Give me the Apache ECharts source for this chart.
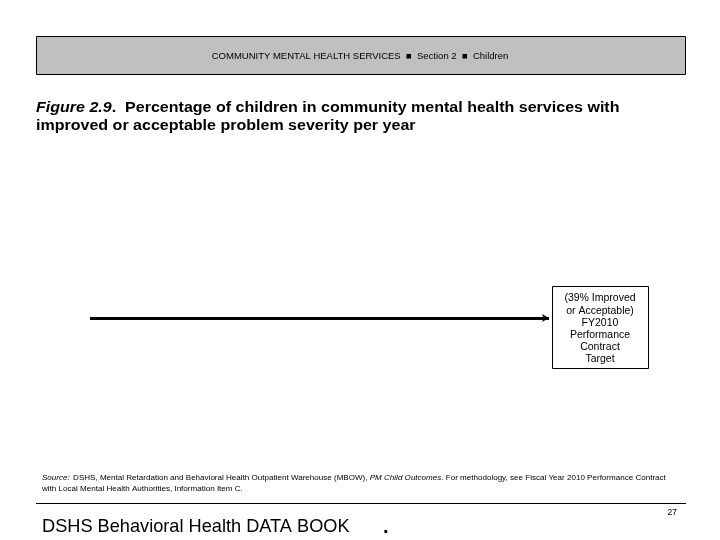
<!DOCTYPE html>
<html><head><meta charset="utf-8">
<script src="https://cdn.jsdelivr.net/npm/echarts@6/dist/echarts.min.js"></script>
<style>html,body{margin:0;padding:0;background:#fff}#c{width:720px;height:540px}</style>
</head><body><div id="c"></div>
<script>
const headerParts = ['COMMUNITY MENTAL HEALTH SERVICES', 'Section 2', 'Children'];
const titleLines = ['Percentage of children in community mental health services with', 'improved or acceptable problem severity per year'];
const targetX = [0, 1];
const targetValue = [39, 39];
const targetLabelLines = ['(39% Improved', 'or Acceptable)', 'FY2010', 'Performance', 'Contract', 'Target'];
const pageNumber = '27';

const chart = echarts.init(document.getElementById('c'), null, {renderer: 'canvas'});
const F = 'Liberation Sans, Arial, sans-serif';
chart.setOption({
  animation: false,
  grid: {left: 90, right: 171, top: 127, bottom: 100},
  xAxis: {type: 'value', min: 0, max: 1, show: false},
  yAxis: {type: 'value', min: 0, max: 100, show: false},
  series: [{
    type: 'line',
    data: [],
    markLine: {
      silent: true,
      symbol: ['none', 'arrow'],
      symbolSize: [6, 7],
      label: {show: false},
      lineStyle: {color: '#000', width: 3, type: 'solid'},
      data: [[{coord: [targetX[0], targetValue[0]]}, {coord: [targetX[1], targetValue[1]]}]]
    }
  }],
  graphic: [
    {type: 'rect', shape: {x: 36.5, y: 36.5, width: 649, height: 38}, style: {fill: '#c0c0c0', stroke: '#000', lineWidth: 1}},
    {type: 'text', x: 360, y: 56, style: {
      text: headerParts.join('  \u25A0  '), font: '9.5px ' + F, fill: '#000', align: 'center', verticalAlign: 'middle'}},
    {type: 'text', x: 36, y: 99, scaleX: 1.145, style: {
      text: '{i|Figure 2.9}{b|.  ' + titleLines[0] + '}\n{b|' + titleLines[1] + '}',
      rich: {
        i: {font: 'italic bold 14px ' + F, fill: '#000', lineHeight: 18},
        b: {font: 'bold 14px ' + F, fill: '#000', lineHeight: 18}
      },
      verticalAlign: 'top'}},
    {type: 'rect', shape: {x: 552.5, y: 286.5, width: 96, height: 82}, style: {fill: '#fff', stroke: '#000', lineWidth: 1}},
    {type: 'text', x: 600, y: 329, style: {
      text: targetLabelLines.join('\n'), font: '10.5px ' + F, lineHeight: 12.2, fill: '#000', align: 'center', verticalAlign: 'middle'}},
    {type: 'text', x: 42, y: 483, style: {
      text: '{i|Source:} {n|DSHS, Mental Retardation and Behavioral Health Outpatient Warehouse (MBOW), }{i|PM Child Outcomes}{n|. For methodology, see Fiscal Year 2010 Performance Contract}\n{n|with Local Mental Health Authorities, Information Item C.}',
      rich: {
        i: {font: 'italic 8.05px ' + F, fill: '#000', lineHeight: 11},
        n: {font: '8.05px ' + F, fill: '#000', lineHeight: 11}
      },
      verticalAlign: 'middle'}},
    {type: 'line', shape: {x1: 36, y1: 503.5, x2: 686, y2: 503.5}, style: {stroke: '#000', lineWidth: 1}},
    {type: 'text', x: 677, y: 513, style: {text: pageNumber, font: '8.5px ' + F, fill: '#000', align: 'right', verticalAlign: 'middle'}},
    {type: 'text', x: 42, y: 527, style: {
      text: '{n|DSHS Behavioral Health DATA BOOK}{d|      .}',
      rich: {n: {font: '18.2px ' + F, fill: '#000'}, d: {font: 'bold 20px ' + F, fill: '#000'}},
      verticalAlign: 'middle'}}
  ]
});
</script></body></html>
